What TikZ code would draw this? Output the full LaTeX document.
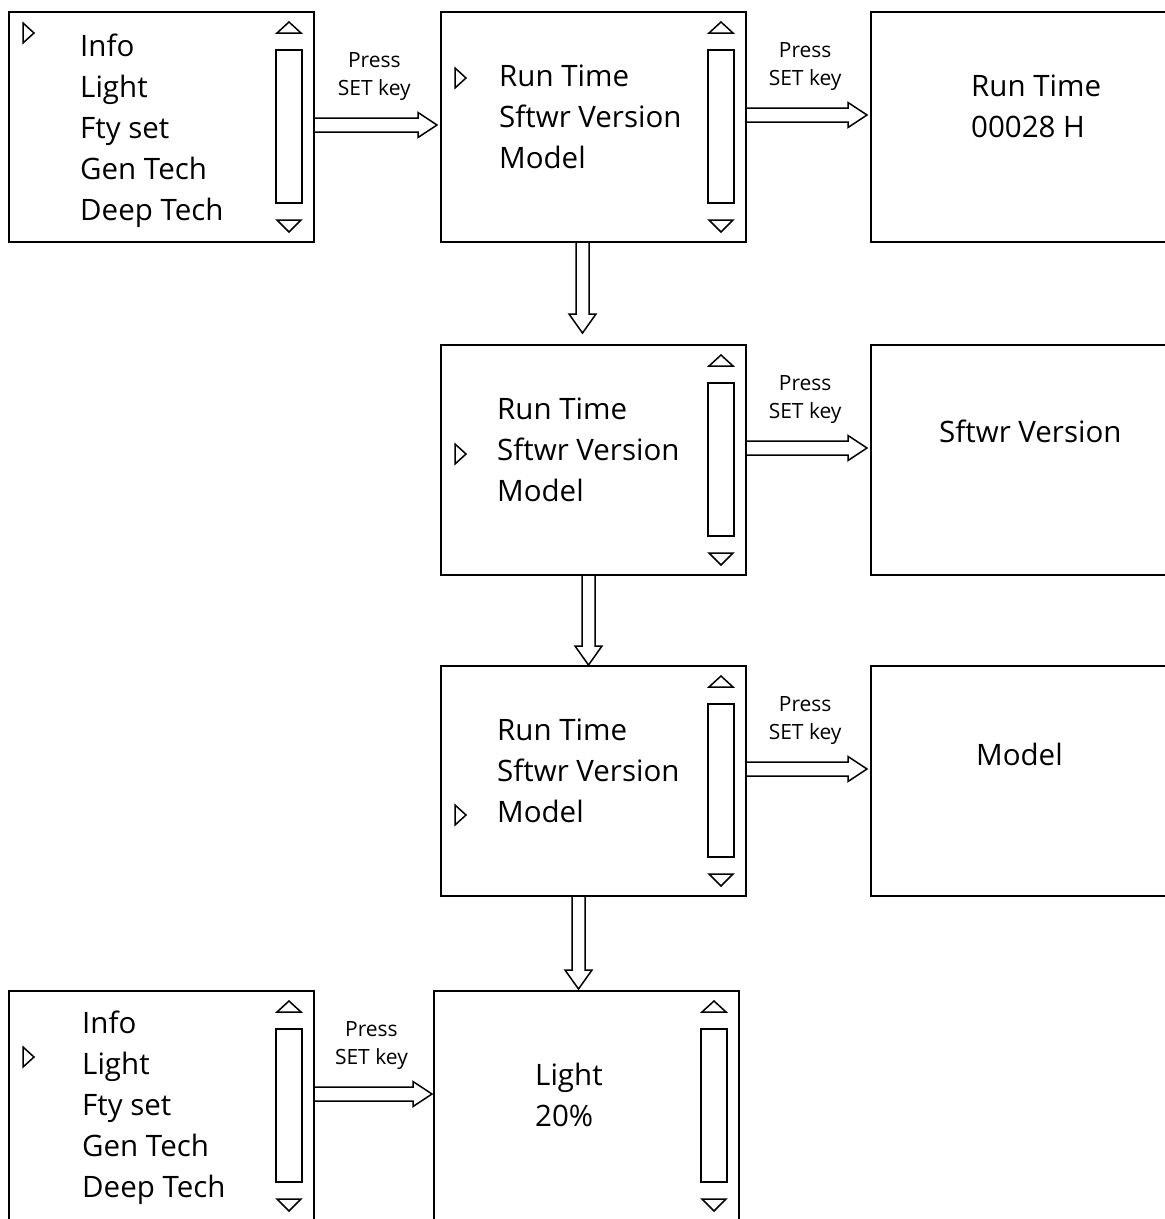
\documentclass[tikz,border=0pt]{standalone}
\usepackage{fontspec}
\setmainfont{Open Sans}
\usetikzlibrary{positioning,calc}

\begin{document}
\begin{tikzpicture}[
    x=1pt, y=-1pt,
    box/.style={draw, line width=1.6pt, minimum width=305pt, minimum height=230pt, inner sep=0pt, outer sep=0pt},
    menu/.style={anchor=north west, inner sep=0pt, align=left, font=\fontsize{29.5}{41}\selectfont},
    keylbl/.style={align=center, inner sep=1pt, font=\fontsize{21}{28}\selectfont, above=16pt, pos=0.58},
    sbar/.style={line width=1.5pt},
    cur/.style={line width=1.5pt, line join=miter},
    harrow/.style={draw, line width=1.5pt, line join=miter, to path={
        ($(\tikztostart)+(0,-7)$) -- ($(\tikztotarget)+(-19,-7)$) \tikztonodes
        -- ($(\tikztotarget)+(-19,-12.5)$) -- (\tikztotarget) -- ($(\tikztotarget)+(-19,12.5)$)
        -- ($(\tikztotarget)+(-19,7)$) -- ($(\tikztostart)+(0,7)$)}},
    varrow/.style={draw, line width=1.5pt, line join=miter, to path={
        ($(\tikztostart)+(-6.5,0)$) -- ($(\tikztotarget)+(-6.5,-19)$)
        -- ($(\tikztotarget)+(-13.5,-19)$) -- (\tikztotarget) -- ($(\tikztotarget)+(13.5,-19)$)
        -- ($(\tikztotarget)+(6.5,-19)$) -- ($(\tikztostart)+(6.5,0)$)}}
]
\useasboundingbox (0,0) rectangle (1165,1219);
\clip (0,0) rectangle (1165,1219);

% screens
\node (A) [box, anchor=north west] at (9,12) {};
\node (B) [box, right=127pt of A] {};
\node (C) [box, right=125pt of B] {};
\node (D) [box, below=103pt of B] {};
\node (E) [box, right=125pt of D] {};
\node (F) [box, below=91pt of D] {};
\node (G) [box, right=125pt of F] {};
\node (I) [box, below=95pt of F, xshift=-7pt] {};
\node (H) [box, left=120pt of I] {};

% screen texts
\node (tA) [menu] at ($(A.north west)+(71,22)$) {Info\\Light\\Fty set\\Gen Tech\\Deep Tech};
\node (tB) [menu] at ($(B.north west)+(58,53)$) {Run Time\\Sftwr Version\\Model};
\node (tC) [menu] at ($(C.north west)+(100,63)$) {Run Time\\00028 H};
\node (tD) [menu] at ($(D.north west)+(56,53)$) {Run Time\\Sftwr Version\\Model};
\node (tE) [menu] at ($(E.north west)+(68,75)$) {Sftwr Version};
\node (tF) [menu] at ($(F.north west)+(56,53)$) {Run Time\\Sftwr Version\\Model};
\node (tG) [menu] at ($(G.north west)+(105,77)$) {Model};
\node (tH) [menu] at ($(H.north west)+(73,20)$) {Info\\Light\\Fty set\\Gen Tech\\Deep Tech};
\node (tI) [menu] at ($(I.north west)+(101,72)$) {Light\\20\%};

% cursors
\foreach \b/\dy in {A/11, B/56, D/99, F/139, H/56}
    \draw[cur] ($(\b.north west)+(14,\dy)$) -- ++(11,10) -- ++(-11,10) -- cycle;

% scroll bars
\foreach \b in {A,B,D,F,H,I} {
    \draw[sbar] ($(\b.north east)+(-38,38)$) rectangle ($(\b.north east)+(-12,191)$);
    \draw[sbar] ($(\b.north east)+(-37,21)$) -- ++(12,-11) -- ++(12,11) -- cycle;
    \draw[sbar] ($(\b.north east)+(-37,208)$) -- ++(12,12) -- ++(12,-12) -- cycle;
}

% connectors
\draw [harrow] ([yshift=2pt]A.east) to node[keylbl] (kAB) {Press\\SET key} ([xshift=-4pt,yshift=2pt]B.west);
\draw [harrow] ([yshift=12pt]B.east) to node[keylbl] (kBC) {Press\\SET key} ([xshift=-4pt,yshift=12pt]C.west);
\draw [harrow] ([yshift=12pt]D.east) to node[keylbl] (kDE) {Press\\SET key} ([xshift=-4pt,yshift=12pt]E.west);
\draw [harrow] ([yshift=12pt]F.east) to node[keylbl] (kFG) {Press\\SET key} ([xshift=-4pt,yshift=12pt]G.west);
\draw [harrow] ([yshift=12pt]H.east) to node[keylbl] (kHI) {Press\\SET key} ([xshift=-2pt,yshift=12pt]I.west);
\draw [varrow] ([xshift=-11pt]B.south) to ([xshift=-11pt,yshift=12pt]D.north);
\draw [varrow] ([xshift=-5pt]D.south) to ([xshift=-5pt,yshift=1pt]F.north);
\draw [varrow] ([xshift=-15pt]F.south) to ([xshift=-8pt,yshift=2pt]I.north);
\end{tikzpicture}
\end{document}
